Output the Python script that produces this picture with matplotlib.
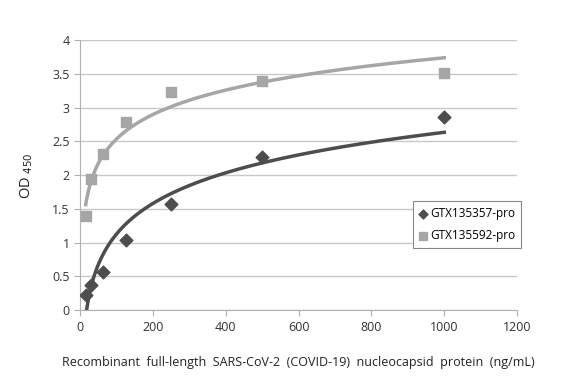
import numpy as np
import matplotlib.pyplot as plt

# Concentraciones (ng/mL)
conc = [15.6, 31.25, 62.5, 125, 250, 500, 1000]

# OD450 de cada anticuerpo
od_357 = [0.23, 0.37, 0.56, 1.04, 1.58, 2.27, 2.86]
od_592 = [1.40, 1.94, 2.31, 2.78, 3.23, 3.39, 3.51]

etiquetas = ['GTX135357-pro', 'GTX135592-pro']
x_ticks = [0, 200, 400, 600, 800, 1000, 1200]
y_ticks = [0, 0.5, 1, 1.5, 2, 2.5, 3, 3.5, 4]

plt.rcParams['font.family'] = ['Open Sans', 'DejaVu Sans']

fig = plt.figure(figsize=(5.82, 3.82), dpi=100)
ax = fig.add_axes([0.1375, 0.188, 0.751, 0.707])

x = np.array(conc)

# Líneas de tendencia logarítmicas (como en Excel)
for od, color in [(od_357, '#4d4d4d'), (od_592, '#a6a6a6')]:
    b, a = np.polyfit(np.log(x), od, 1)
    xx = np.linspace(x.min(), x.max(), 400)
    yy = a + b * np.log(xx)
    keep = yy >= 0
    ax.plot(xx[keep], yy[keep], color=color, lw=2.5, zorder=2)

ax.scatter(conc, od_357, marker='D', s=42, color='#4d4d4d', zorder=3, label=etiquetas[0])
ax.scatter(conc, od_592, marker='s', s=60, color='#a6a6a6', zorder=3, label=etiquetas[1])

ax.set_xlim(0, 1200)
ax.set_ylim(0, 4)
ax.set_xticks(x_ticks)
ax.set_yticks(y_ticks)
ax.set_yticklabels([f'{v:g}' for v in y_ticks])
ax.grid(axis='y', color='#c8c8c8', lw=1)
ax.set_axisbelow(True)
for s in ['top', 'right']:
    ax.spines[s].set_visible(False)
for s in ['left', 'bottom']:
    ax.spines[s].set_color('#b0b0b0')
ax.tick_params(colors='#b0b0b0', labelcolor='#333333', labelsize=9, length=4, direction='out')

ax.set_ylabel('OD $_{450}$', fontsize=10.5, color='#222222', labelpad=12)
ax.set_xlabel('Recombinant  full-length  SARS-CoV-2  (COVID-19)  nucleocapsid  protein  (ng/mL)',
              fontsize=9, color='#222222', labelpad=16)

leg = ax.legend(loc='upper left', bbox_to_anchor=(0.699, 0.49), bbox_transform=fig.transFigure,
                fancybox=False, edgecolor='#888888', fontsize=8.5, handletextpad=0.2,
                handlelength=0.8, borderpad=0.5, labelspacing=0.8, framealpha=1,
                markerscale=0.7)
leg.get_frame().set_linewidth(0.8)

plt.savefig('out.png', dpi=100)
